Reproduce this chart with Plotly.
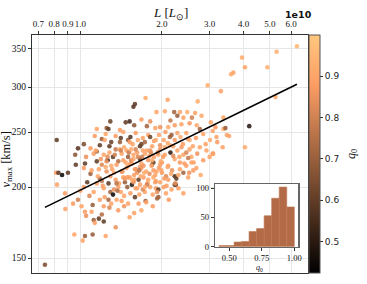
import numpy as np
import plotly.graph_objects as go

# ---------------- data (L in units of 1e10 L_sun, vmax in km/s, q0) ----------------
lum_e10 = [
    6.3, 5.3, 3.95, 4.05, 4.9, 3.67, 3.6, 2.95, 3.3, 1.74, 2.1, 2.71, 1.59, 1.57, 5.25, 4.2, 4.05, 3.54, 3.37, 3.08, 3.08, 2.78,
    1.91, 2.05, 2.22, 2.33, 2.48, 2.65, 2.8, 2.28, 2.4, 1.68, 1.52, 1.47, 1.29, 1.81, 1.15, 1.25, 1.27, 1.40, 1.76, 1.89,
    1.97, 2.11, 2.23, 2.36, 2.53, 2.69, 3.03, 2.15, 1.58, 2.58, 3.15,
    1.13, 1.20, 1.24, 1.30, 1.35, 1.41, 1.44, 1.50, 1.53, 1.56, 1.60, 1.63, 1.66, 1.68, 1.70, 1.73, 1.78, 1.81, 1.84, 1.87,
    1.90, 1.95, 1.97, 2.03, 2.06, 2.10, 2.14, 2.17, 2.20, 2.23, 2.28, 2.34, 2.39, 2.46, 2.50, 2.53, 2.60, 2.67, 2.76, 2.84,
    3.01, 3.18, 3.37, 3.43, 3.47, 3.35, 3.20, 2.90, 0.818, 1.03, 0.98, 1.18, 1.23, 1.28, 1.40, 1.52, 1.09,
    0.957, 1.12, 1.15, 1.22, 1.26, 1.32, 1.42, 1.44, 1.48, 1.50, 1.57, 1.62, 1.66, 1.73, 1.78, 1.87, 1.94, 2.00, 2.05, 2.15,
    2.23, 2.33, 2.40, 2.57, 2.62, 2.84, 1.86, 2.05, 2.14, 2.36, 2.53, 2.76, 2.92, 3.09, 1.35, 1.45, 1.60, 1.70, 1.82, 1.15,
    1.05, 1.28, 1.38, 1.53, 1.68, 1.97, 2.28, 2.46, 2.70, 3.00, 2.50, 2.20,
    0.814, 0.962, 1.03, 1.04, 1.17, 1.36, 1.55, 1.68, 1.84, 2.11, 2.46, 2.57, 2.33, 2.40, 2.23, 2.25, 2.00, 1.91, 0.83, 0.856,
    0.90, 1.09, 1.18, 1.35, 1.44, 1.52, 1.58, 1.64, 1.71, 1.78, 1.86, 2.11, 2.26, 2.50, 2.61, 1.25, 1.30, 1.42, 1.48, 1.62,
    1.75, 1.95, 2.18, 2.30, 1.20, 1.10, 2.07, 1.90, 1.60, 2.68,
    0.82, 0.878, 1.03, 1.06, 1.12, 1.15, 1.22, 1.23, 1.27, 1.29, 1.32, 1.38, 1.41, 1.46, 1.49, 1.55, 1.60, 1.66, 1.73, 1.81,
    1.90, 1.94, 1.97, 2.03, 2.07, 2.17, 1.53, 1.59, 1.65, 1.94, 2.08, 2.23, 1.18, 1.36, 1.27, 1.42, 1.74, 1.92, 1.33, 1.45,
    1.70, 1.85, 2.30, 2.40, 1.08, 1.00, 1.20, 1.57, 1.77, 2.12,
    0.94, 1.01, 1.11, 1.04, 1.10, 1.22, 1.30, 1.38, 1.50, 1.64, 1.75, 1.12, 1.17, 1.52, 1.20, 1.28, 0.88, 1.45, 1.58, 1.85,
    1.68, 1.05, 0.98, 1.22, 1.13, 0.95, 1.04, 1.11, 1.02, 1.24, 1.35, 0.74,
    1.14, 1.19, 1.24, 1.29, 1.34, 1.39, 1.43, 1.47, 1.51, 1.55, 1.59, 1.63, 1.67, 1.71, 1.76, 1.80, 1.84, 1.89, 1.93, 1.99,
    1.16, 1.21, 1.26, 1.31, 1.36, 1.40, 1.46, 1.50, 1.54, 1.58, 1.62, 1.66, 1.72, 1.76, 1.80, 1.86, 1.92, 1.98, 2.04, 2.10,
    1.25, 1.33, 1.41, 1.49, 1.57, 1.65, 1.73, 1.81, 1.89, 1.97, 2.16, 2.24, 2.32, 2.42, 2.52, 1.37, 1.54, 1.69, 1.83, 2.02,
]
vmax_kms = [
    354, 346, 338, 325, 325, 318, 316, 302, 295, 287, 285, 283, 280, 277, 288, 256, 235, 246, 253, 251, 229, 210,
    271, 272, 271, 271, 271, 270, 267, 267, 265, 263, 261, 260, 261, 261, 253, 254, 253, 252, 256, 254,
    255, 255, 257, 258, 259, 257, 260, 262, 257, 265, 255,
    246, 243, 248, 240, 246, 244, 250, 242, 245, 238, 249, 242, 236, 238, 244, 240, 247, 245, 236, 241,
    242, 247, 237, 242, 250, 239, 245, 247, 236, 242, 249, 245, 238, 249, 243, 242, 236, 244, 253, 248,
    242, 245, 265, 254, 247, 235, 240, 238, 242, 238, 234, 237, 242, 236, 240, 240, 234,
    228, 229, 222, 228, 223, 226, 229, 223, 232, 226, 228, 230, 224, 229, 223, 226, 228, 221, 228, 230,
    224, 221, 228, 226, 221, 223, 221, 235, 237, 235, 233, 235, 232, 229, 233, 235, 233, 232, 230, 231,
    226, 230, 222, 220, 220, 233, 232, 230, 229, 226, 225, 227,
    212, 219, 216, 220, 215, 219, 220, 216, 219, 218, 218, 221, 215, 212, 209, 202, 212, 213, 212, 210,
    212, 211, 207, 206, 208, 208, 206, 206, 208, 206, 208, 206, 207, 208, 214, 213, 218, 213, 216, 212,
    213, 216, 214, 210, 219, 214, 209, 205, 215, 216,
    202, 195, 200, 204, 196, 203, 199, 192, 203, 196, 194, 200, 196, 204, 200, 202, 199, 202, 196, 200,
    199, 192, 204, 200, 195, 198, 195, 192, 194, 198, 201, 202, 190, 190, 190, 189, 189, 191, 198, 193,
    198, 194, 199, 195, 193, 197, 205, 204, 203, 190,
    187, 185, 186, 181, 181, 185, 187, 182, 187, 187, 188, 175, 176, 177, 179, 184, 183, 185, 180, 185,
    182, 178, 190, 174, 173, 165, 164, 165, 161, 164, 170, 146,
    232, 224, 217, 209, 228, 203, 213, 221, 230, 206, 215, 226, 209, 218, 232, 211, 223, 204, 230, 214,
    209, 201, 226, 215, 203, 233, 207, 218, 223, 210, 199, 217, 212, 202, 227, 214, 196, 222, 207, 217,
    222, 212, 232, 208, 224, 214, 200, 232, 210, 219, 211, 203, 226, 220, 212, 197, 233, 226, 218, 226,
]
q0 = [
    0.95, 0.93, 0.92, 0.90, 0.93, 0.90, 0.91, 0.93, 0.90, 0.92, 0.90, 0.93, 0.60, 0.58, 0.92, 0.50, 0.92, 0.90, 0.93, 0.90, 0.92, 0.91,
    0.90, 0.92, 0.72, 0.90, 0.93, 0.90, 0.91, 0.70, 0.90, 0.88, 0.55, 0.60, 0.62, 0.85, 0.90, 0.70, 0.60, 0.88, 0.72, 0.90,
    0.86, 0.92, 0.88, 0.90, 0.87, 0.92, 0.90, 0.78, 0.68, 0.80, 0.88,
    0.88, 0.70, 0.90, 0.62, 0.88, 0.60, 0.90, 0.68, 0.58, 0.90, 0.88, 0.92, 0.60, 0.62, 0.90, 0.72, 0.90, 0.62, 0.90, 0.88,
    0.92, 0.90, 0.85, 0.90, 0.88, 0.92, 0.72, 0.70, 0.90, 0.88, 0.90, 0.92, 0.88, 0.90, 0.86, 0.92, 0.90, 0.88, 0.72, 0.90,
    0.92, 0.90, 0.90, 0.70, 0.90, 0.90, 0.88, 0.90, 0.60, 0.65, 0.58, 0.60, 0.90, 0.60, 0.70, 0.88, 0.88,
    0.68, 0.88, 0.60, 0.90, 0.45, 0.60, 0.90, 0.88, 0.90, 0.70, 0.90, 0.88, 0.60, 0.90, 0.86, 0.90, 0.92, 0.88, 0.90, 0.50,
    0.90, 0.88, 0.90, 0.92, 0.90, 0.88, 0.60, 0.90, 0.92, 0.88, 0.90, 0.90, 0.90, 0.88, 0.78, 0.92, 0.82, 0.90, 0.80, 0.72,
    0.85, 0.90, 0.75, 0.85, 0.90, 0.85, 0.90, 0.82, 0.86, 0.90, 0.78, 0.83,
    0.88, 0.60, 0.88, 0.60, 0.90, 0.88, 0.90, 0.88, 0.70, 0.90, 0.88, 0.90, 0.90, 0.72, 0.58, 0.60, 0.88, 0.90, 0.58, 0.45,
    0.60, 0.70, 0.70, 0.88, 0.90, 0.88, 0.90, 0.60, 0.88, 0.90, 0.92, 0.88, 0.60, 0.90, 0.88, 0.85, 0.92, 0.80, 0.90, 0.86,
    0.92, 0.88, 0.85, 0.90, 0.82, 0.90, 0.82, 0.90, 0.80, 0.90,
    0.90, 0.88, 0.88, 0.60, 0.90, 0.88, 0.90, 0.90, 0.60, 0.72, 0.45, 0.88, 0.90, 0.70, 0.70, 0.48, 0.90, 0.88, 0.90, 0.90,
    0.88, 0.70, 0.90, 0.88, 0.90, 0.90, 0.88, 0.60, 0.90, 0.60, 0.88, 0.60, 0.88, 0.90, 0.72, 0.88, 0.70, 0.72, 0.85, 0.90,
    0.82, 0.90, 0.88, 0.90, 0.82, 0.90, 0.78, 0.85, 0.90, 0.88,
    0.88, 0.90, 0.70, 0.88, 0.90, 0.88, 0.90, 0.88, 0.90, 0.88, 0.90, 0.70, 0.60, 0.90, 0.75, 0.82, 0.90, 0.86, 0.90, 0.88,
    0.92, 0.85, 0.80, 0.60, 0.88, 0.90, 0.70, 0.70, 0.90, 0.90, 0.85, 0.65,
    0.90, 0.86, 0.92, 0.88, 0.80, 0.92, 0.86, 0.90, 0.78, 0.92, 0.88, 0.82, 0.92, 0.86, 0.90, 0.84, 0.92, 0.88, 0.80, 0.90,
    0.92, 0.88, 0.84, 0.90, 0.76, 0.92, 0.86, 0.90, 0.82, 0.88, 0.90, 0.86, 0.92, 0.80, 0.90, 0.88, 0.84, 0.92, 0.88, 0.90,
    0.86, 0.92, 0.80, 0.88, 0.90, 0.76, 0.92, 0.86, 0.90, 0.88, 0.92, 0.84, 0.90, 0.88, 0.86, 0.74, 0.92, 0.80, 0.90, 0.88,
]

# power-law fit  v = amp * L^slope
fit_amp = 197.6
fit_slope = 0.233

# inset histogram of q0
hist_edges = [0.421, 0.479, 0.537, 0.594, 0.652, 0.710, 0.768, 0.826, 0.884, 0.942, 1.000]
hist_counts = [2, 2, 8, 9, 26, 31, 53, 83, 102, 68]

x_ticks = [0.7, 0.8, 0.9, 1.0, 2.0, 3.0, 4.0, 5.0, 6.0]
x_ticklabels = ["0.7", "0.8", "0.9", "1.0", "2.0", "3.0", "4.0", "5.0", "6.0"]
y_ticks = [150, 200, 250, 300, 350]
cb_ticks = [0.5, 0.6, 0.7, 0.8, 0.9]
hx_ticks = [0.5, 0.75, 1.0]
hx_ticklabels = ["0.50", "0.75", "1.00"]
hy_ticks = [0, 50, 100]

# ---------------- figure ----------------
copper = [[0.0, "rgb(0,0,0)"], [0.8, "rgb(255,159,101)"], [1.0, "rgb(255,199,127)"]]
SERIF = "Liberation Serif"
SANS = "DejaVu Sans"
AX = "#333333"

fig = go.Figure()

fig.add_trace(go.Scatter(
    x=lum_e10, y=vmax_kms, mode="markers", showlegend=False, hoverinfo="skip",
    marker=dict(
        size=4.6, color=q0, colorscale=copper, cmin=0.424, cmax=1.0, opacity=0.88,
        line=dict(width=0),
        colorbar=dict(
            thickness=11, thicknessmode="pixels", len=1, lenmode="fraction",
            x=1.0036, xanchor="left", xpad=0, y=0.5, yanchor="middle", ypad=0,
            outlinewidth=1, outlinecolor="#555555",
            tickvals=cb_ticks, ticks="outside", ticklen=3, tickcolor=AX,
            tickfont=dict(family=SANS, size=9, color="#222222"),
        ),
    ),
))

lfit = np.array([min(lum_e10), max(lum_e10)])
vfit = fit_amp * lfit ** fit_slope
fig.add_trace(go.Scatter(x=lfit, y=vfit, mode="lines", showlegend=False, hoverinfo="skip",
                         line=dict(color="black", width=1.6)))

edges = np.array(hist_edges)
centers = 0.5 * (edges[:-1] + edges[1:])
widths = np.diff(edges)
fig.add_trace(go.Bar(x=centers, y=hist_counts, width=widths, xaxis="x2", yaxis="y2",
                     showlegend=False, hoverinfo="skip",
                     marker=dict(color="#b36a47", line=dict(color="#bd7753", width=0.6))))

fig.update_layout(
    width=367, height=284,
    margin=dict(l=32, r=59, t=35, b=11, autoexpand=False),
    paper_bgcolor="white", plot_bgcolor="white",
    xaxis=dict(
        type="log", range=[np.log10(0.663), np.log10(6.92)], side="top",
        tickvals=x_ticks, ticktext=x_ticklabels, ticks="outside", ticklen=3, tickcolor=AX,
        tickangle=0, automargin=False,
        showline=True, linecolor=AX, linewidth=1.2, mirror=True,
        showgrid=True, gridcolor="#e6e6e6", gridwidth=1, zeroline=False,
        tickfont=dict(family=SERIF, size=9, color="#111111"),
    ),
    yaxis=dict(
        type="log", range=[np.log10(141.2), np.log10(370.4)], automargin=False,
        tickvals=y_ticks, ticks="outside", ticklen=3, tickcolor=AX,
        showline=True, linecolor=AX, linewidth=1.2, mirror=True,
        showgrid=True, gridcolor="#e6e6e6", gridwidth=1, zeroline=False,
        tickfont=dict(family=SERIF, size=9.5, color="#111111"),
    ),
    xaxis2=dict(
        domain=[0.663, 0.965], anchor="y2", range=[0.39, 1.031], automargin=False,
        tickvals=hx_ticks, ticktext=hx_ticklabels, ticks="outside", ticklen=3, tickcolor=AX,
        tickangle=0,
        showline=True, linecolor="#666666", linewidth=1.2, mirror=True,
        showgrid=False, zeroline=False,
        tickfont=dict(family=SERIF, size=8.5, color="#111111"),
    ),
    yaxis2=dict(
        domain=[0.1105, 0.3727], anchor="x2", range=[0, 106.8], automargin=False,
        tickvals=hy_ticks, ticks="outside", ticklen=3, tickcolor=AX,
        showline=True, linecolor="#666666", linewidth=1.2, mirror=True,
        showgrid=False, zeroline=False,
        tickfont=dict(family=SERIF, size=8.5, color="#111111"),
    ),
    bargap=0,
)

ann = [
    dict(text="<i>L</i> [<i>L</i><sub>⊙</sub>]", x=0.5, y=1.092, font=dict(family=SERIF, size=13, color="#111111")),
    dict(text="<b>1e10</b>", x=0.964, y=1.087, font=dict(family=SANS, size=9.5, color="#111111")),
    dict(text="<i>v</i><sub>max</sub> [km/s]", x=-0.092, y=0.475, textangle=-90,
         font=dict(family=SERIF, size=12.5, color="#111111")),
    dict(text="<i>q</i><sub>0</sub>", x=1.159, y=0.5, textangle=-90,
         font=dict(family=SERIF, size=12, color="#111111")),
    dict(text="<i>q</i><sub>0</sub>", x=0.826, y=0.02,
         font=dict(family=SERIF, size=8, color="#111111")),
]
for a in ann:
    fig.add_annotation(xref="paper", yref="paper", showarrow=False, xanchor="center", yanchor="middle", **a)

# remove the browser's default 8px body margin so the figure fills the window
fig.write_html(
    "out.html",
    config={"displayModeBar": False, "staticPlot": True},
    post_script="document.body.style.margin='0';document.body.style.overflow='hidden';",
)
